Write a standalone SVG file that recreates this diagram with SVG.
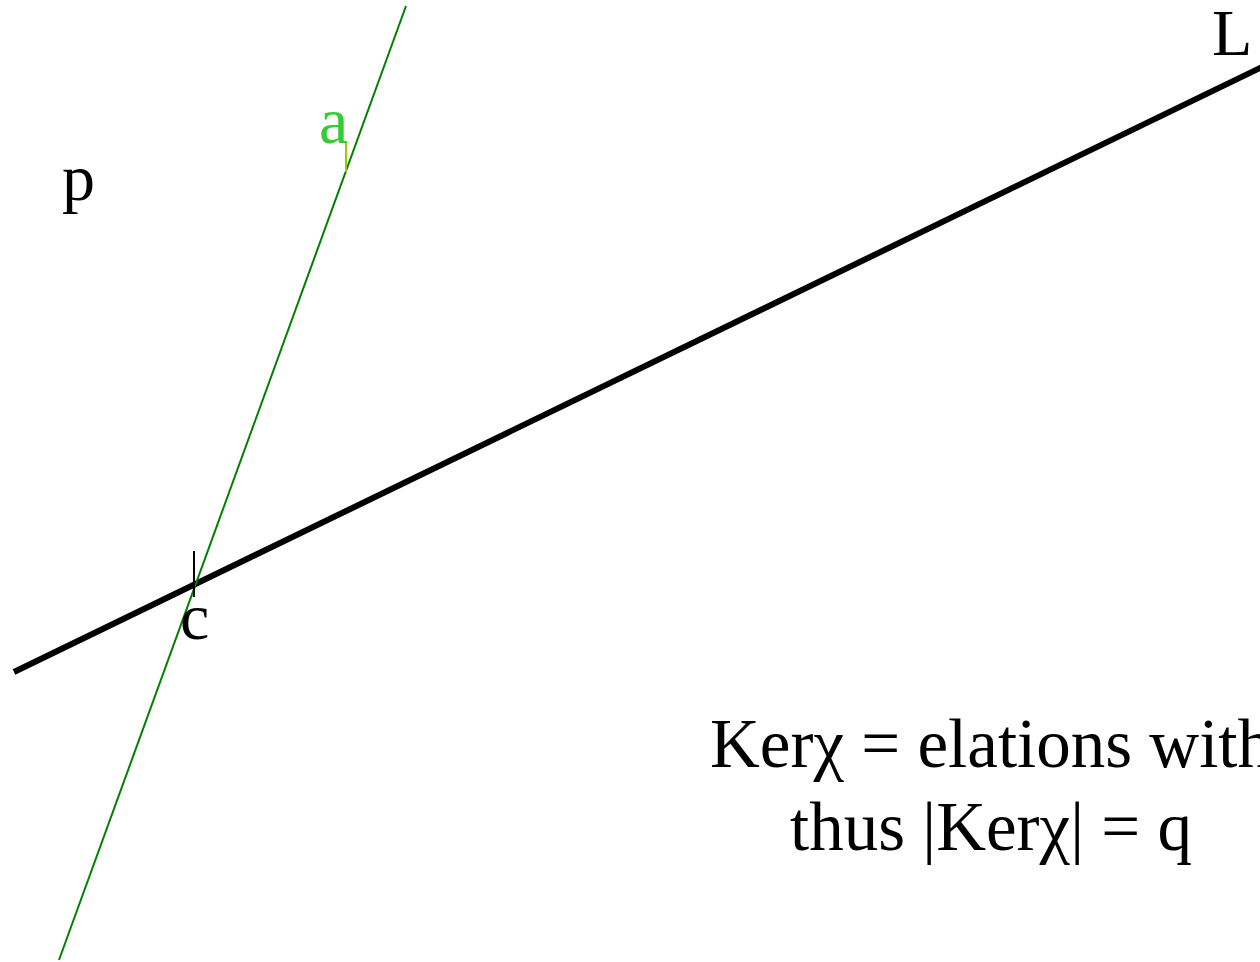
<svg xmlns="http://www.w3.org/2000/svg" width="1260" height="962" viewBox="0 0 1260 962">
<style>
text{font-family:"Liberation Serif","DejaVu Serif",serif;fill:#000}
.lbl{font-size:66px}
.note{font-size:69px;text-anchor:middle}
</style>
<rect width="1260" height="962" fill="#fff"/>
<g id="connectors">
<line id="lineL" x1="14" y1="672" x2="1262" y2="67" stroke="#000" stroke-width="6"/>
<line id="greenLine" x1="406" y1="6" x2="59" y2="960" stroke="#008000" stroke-width="2"/>
<line id="tickA" x1="346" y1="142" x2="346" y2="172" stroke="#99cc00" stroke-width="2"/>
<line id="tickC" x1="194" y1="551" x2="194" y2="597" stroke="#000" stroke-width="2"/>
</g>
<g id="node-p"><text class="lbl" x="62" y="200">p</text></g>
<g id="node-a"><text class="lbl" x="319" y="143" style="fill:#33cc33">a</text></g>
<g id="node-c"><text class="lbl" x="180" y="639">c</text></g>
<g id="node-L"><text class="lbl" x="1212" y="55">L</text></g>
<g id="note">
<text class="note" x="991" y="767">Kerχ = elations with</text>
<text class="note" x="991" y="850">thus |Kerχ| = q</text>
</g>
</svg>
